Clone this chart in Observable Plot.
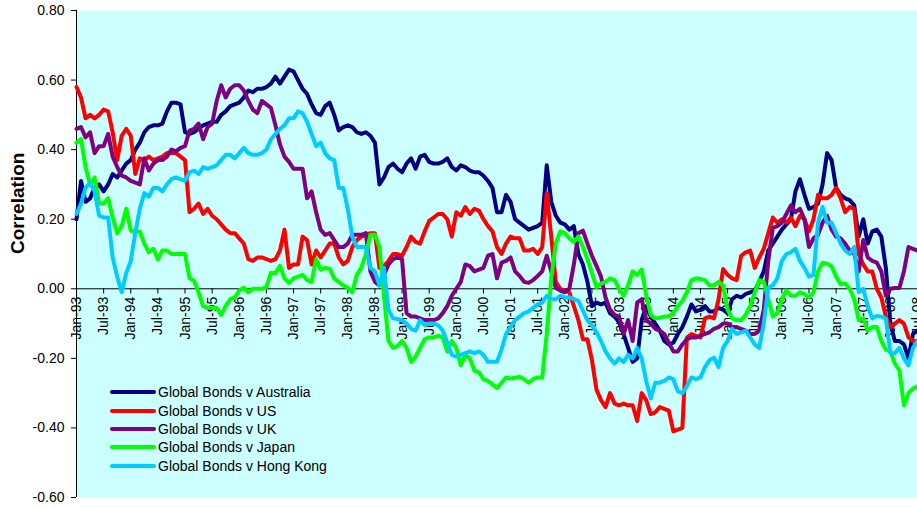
<!DOCTYPE html>
<html>
<head>
<meta charset="utf-8">
<script src="https://cdn.jsdelivr.net/npm/d3@7"></script>
<script src="https://cdn.jsdelivr.net/npm/@observablehq/plot@0.6"></script>
<style>
  html, body { margin: 0; padding: 0; background: #ffffff; overflow: hidden; }
  #wrap { position: relative; width: 917px; height: 507px; font-family: "Liberation Sans", Arial, sans-serif; }
  #wrap svg { display: block; }
  #legend { position: absolute; left: 110px; top: 383px; font-size: 14px; color: #000; }
  #legend .row { display: flex; align-items: center; height: 18.4px; white-space: nowrap; }
  #legend .swatch { width: 46px; height: 4px; margin-right: 2px; border-radius: 2px; }
</style>
</head>
<body>
<div id="wrap"><div id="legend"></div></div>
<script>
// Monthly correlations, Jan-93 onward (one value per month)
const australia = [
  0.20, 0.31, 0.25, 0.26, 0.29, 0.30, 0.28, 0.30, 0.33, 0.32,
  0.34, 0.36, 0.37, 0.40, 0.42, 0.45, 0.465, 0.47, 0.47, 0.475,
  0.51, 0.535, 0.535, 0.53, 0.45, 0.445, 0.45, 0.46, 0.47, 0.475,
  0.48, 0.48, 0.50, 0.51, 0.525, 0.53, 0.535, 0.55, 0.57, 0.565,
  0.575, 0.575, 0.58, 0.59, 0.61, 0.59, 0.61, 0.63, 0.625, 0.60,
  0.575, 0.56, 0.53, 0.505, 0.50, 0.525, 0.535, 0.50, 0.455, 0.465,
  0.47, 0.465, 0.45, 0.445, 0.45, 0.44, 0.42, 0.30, 0.32, 0.35,
  0.36, 0.345, 0.335, 0.36, 0.375, 0.345, 0.38, 0.385, 0.365, 0.36,
  0.36, 0.365, 0.375, 0.35, 0.34, 0.355, 0.35, 0.34, 0.335, 0.335,
  0.325, 0.31, 0.29, 0.22, 0.22, 0.27, 0.25, 0.20, 0.19, 0.18,
  0.17, 0.175, 0.18, 0.19, 0.355, 0.25, 0.21, 0.19, 0.185, 0.17,
  0.18, 0.10, 0.07, 0.02, -0.05, -0.04, -0.045, -0.04, -0.07, -0.08,
  -0.095, -0.13, -0.17, -0.21, -0.20, -0.09, -0.05, -0.08, -0.10, -0.12,
  -0.15, -0.16, -0.155, -0.13, -0.11, -0.08, -0.045, -0.065, -0.06, -0.05,
  -0.065, -0.065, -0.055, -0.06, -0.07, -0.03, -0.02, -0.025, -0.015, -0.01,
  -0.005, 0.02, 0.05, 0.11, 0.13, 0.15, 0.17, 0.185, 0.20, 0.28,
  0.315, 0.27, 0.23, 0.235, 0.245, 0.30, 0.39, 0.37, 0.29, 0.27,
  0.26, 0.255, 0.24, 0.15, 0.20, 0.13, 0.165, 0.17, 0.15, 0.06,
  -0.10, -0.15, -0.15, -0.16, -0.20, -0.13, -0.12
];
const us = [
  0.58, 0.55, 0.49, 0.50, 0.49, 0.50, 0.515, 0.51, 0.45, 0.37,
  0.44, 0.46, 0.44, 0.33, 0.375, 0.37, 0.38, 0.37, 0.375, 0.38,
  0.39, 0.39, 0.39, 0.38, 0.37, 0.22, 0.23, 0.245, 0.215, 0.23,
  0.21, 0.20, 0.185, 0.17, 0.16, 0.16, 0.145, 0.13, 0.085, 0.08,
  0.09, 0.09, 0.085, 0.08, 0.085, 0.11, 0.17, 0.06, 0.07, 0.07,
  0.15, 0.14, 0.07, 0.11, 0.09, 0.11, 0.13, 0.13, 0.09, 0.07,
  0.08, 0.12, 0.14, 0.15, 0.155, 0.16, 0.16, 0.06, 0.065, 0.08,
  0.10, 0.10, 0.095, 0.12, 0.15, 0.135, 0.13, 0.165, 0.195, 0.205,
  0.215, 0.215, 0.20, 0.15, 0.22, 0.21, 0.235, 0.215, 0.23, 0.225,
  0.20, 0.18, 0.165, 0.12, 0.10, 0.13, 0.15, 0.145, 0.145, 0.11,
  0.11, 0.115, 0.10, 0.12, 0.275, 0.15, 0.02, 0.00, -0.005, -0.01,
  -0.05, -0.09, -0.145, -0.145, -0.205, -0.29, -0.32, -0.34, -0.30, -0.33,
  -0.335, -0.33, -0.335, -0.335, -0.38, -0.30, -0.32, -0.36, -0.355, -0.34,
  -0.345, -0.35, -0.41, -0.405, -0.40, -0.14, -0.13, -0.135, -0.14, -0.085,
  -0.08, -0.085, -0.03, 0.057, 0.04, 0.03, 0.025, 0.095, 0.105, 0.11,
  0.06, 0.09, 0.115, 0.16, 0.205, 0.19, 0.20, 0.19, 0.205, 0.18,
  0.21, 0.20, 0.165, 0.20, 0.27, 0.26, 0.26, 0.27, 0.29, 0.26,
  0.22, 0.235, 0.23, 0.10, 0.07, 0.05, 0.05, 0.00, -0.025, -0.08,
  -0.11, -0.10, -0.09, -0.10, -0.14, -0.15, -0.15
];
const uk = [
  0.46, 0.465, 0.435, 0.45, 0.39, 0.41, 0.41, 0.445, 0.38, 0.35,
  0.325, 0.32, 0.31, 0.305, 0.30, 0.375, 0.34, 0.36, 0.37, 0.37,
  0.38, 0.40, 0.395, 0.405, 0.41, 0.455, 0.46, 0.475, 0.43, 0.465,
  0.475, 0.54, 0.585, 0.55, 0.575, 0.585, 0.585, 0.57, 0.54, 0.515,
  0.505, 0.54, 0.53, 0.52, 0.47, 0.415, 0.38, 0.365, 0.345, 0.345,
  0.345, 0.26, 0.28, 0.22, 0.17, 0.155, 0.16, 0.14, 0.12, 0.12,
  0.13, 0.155, 0.155, 0.155, 0.16, 0.05, 0.02, 0.01, 0.04, 0.07,
  0.085, 0.09, 0.085, -0.07, -0.08, -0.08, -0.085, -0.09, -0.09, -0.09,
  -0.085, -0.07, -0.05, -0.02, 0.00, 0.02, 0.07, 0.065, 0.05, 0.055,
  0.06, 0.095, 0.10, 0.03, 0.075, 0.08, 0.09, 0.05, 0.037, 0.02,
  0.017, 0.025, 0.037, 0.05, 0.095, 0.05, 0.003, -0.005, -0.01, 0.0,
  0.07, 0.16, 0.167, 0.13, 0.095, 0.066, 0.035, -0.025, -0.06, -0.075,
  -0.08, -0.13, -0.09, -0.15, -0.04, -0.03, -0.09, -0.10, -0.115, -0.12,
  -0.13, -0.155, -0.18, -0.18, -0.16, -0.145, -0.14, -0.14, -0.135, -0.13,
  -0.125, -0.115, -0.11, -0.10, -0.10, -0.11, -0.11, -0.115, -0.12, -0.13,
  -0.13, -0.12, -0.06, 0.08, 0.175, 0.18, 0.19, 0.215, 0.24, 0.22,
  0.23, 0.20, 0.12, 0.145, 0.155, 0.19, 0.21, 0.17, 0.15, 0.145,
  0.13, 0.11, 0.10, 0.05, 0.14, 0.09, 0.08, 0.075, 0.05, -0.02,
  0.00, 0.002, 0.002, 0.05, 0.12, 0.115, 0.11
];
const japan = [
  0.42, 0.43, 0.35, 0.30, 0.32, 0.245, 0.245, 0.26, 0.205, 0.16,
  0.18, 0.23, 0.167, 0.165, 0.165, 0.13, 0.105, 0.115, 0.085, 0.11,
  0.11, 0.10, 0.10, 0.10, 0.10, 0.03, 0.023, -0.01, -0.05, -0.055,
  -0.055, -0.055, -0.075, -0.05, -0.03, -0.025, -0.005, 0.003, -0.01, 0.0,
  0.0, 0.0, 0.005, 0.046, 0.045, 0.066, 0.03, 0.017, 0.03, 0.035,
  0.04, 0.025, 0.02, 0.085, 0.055, 0.06, 0.058, 0.03, 0.02, 0.01,
  0.003, -0.01, 0.04, 0.06, 0.10, 0.155, 0.155, 0.12, -0.02, -0.15,
  -0.17, -0.165, -0.15, -0.17, -0.21, -0.195, -0.17, -0.145, -0.14, -0.14,
  -0.135, -0.14, -0.18, -0.15, -0.17, -0.22, -0.19, -0.20, -0.235, -0.24,
  -0.26, -0.265, -0.275, -0.285, -0.27, -0.255, -0.258, -0.256, -0.253, -0.26,
  -0.27, -0.26, -0.255, -0.255, -0.13, 0.03, 0.13, 0.165, 0.16, 0.145,
  0.135, 0.15, 0.12, 0.085, 0.045, 0.005, 0.015, 0.02, 0.03, 0.025,
  0.0, -0.02, 0.01, 0.05, 0.04, 0.055, -0.02, -0.075, -0.085, -0.083,
  -0.08, -0.08, -0.07, -0.05, -0.035, -0.01, 0.025, 0.03, 0.028, 0.025,
  0.01, 0.01, 0.02, 0.01, -0.06, -0.085, -0.09, -0.09, -0.075, -0.05,
  -0.01, 0.025, 0.02, -0.03, -0.08, -0.07, -0.03, -0.005, -0.02, -0.02,
  -0.01, -0.015, -0.025, -0.01, 0.05, 0.075, 0.072, 0.065, 0.035, 0.013,
  0.015, 0.0, -0.03, -0.09, -0.085, -0.12, -0.11, -0.11, -0.15, -0.175,
  -0.18, -0.215, -0.235, -0.335, -0.30, -0.287, -0.28
];
const hongKong = [
  0.215, 0.245, 0.29, 0.305, 0.28, 0.21, 0.205, 0.205, 0.09, 0.035,
  -0.01, 0.045, 0.08, 0.16, 0.23, 0.275, 0.265, 0.29, 0.29, 0.28,
  0.30, 0.315, 0.32, 0.315, 0.31, 0.335, 0.34, 0.33, 0.35, 0.345,
  0.35, 0.355, 0.37, 0.385, 0.385, 0.375, 0.39, 0.405, 0.39, 0.385,
  0.385, 0.39, 0.40, 0.43, 0.445, 0.46, 0.47, 0.49, 0.49, 0.51,
  0.505, 0.48, 0.445, 0.41, 0.42, 0.39, 0.375, 0.37, 0.29, 0.29,
  0.23, 0.15, 0.12, 0.12, 0.12, 0.06, 0.05, 0.01, 0.06, -0.06,
  -0.085, -0.087, -0.09, -0.10, -0.115, -0.12, -0.09, -0.105, -0.10, -0.10,
  -0.105, -0.12, -0.155, -0.19, -0.195, -0.19, -0.185, -0.18, -0.185, -0.18,
  -0.19, -0.21, -0.21, -0.21, -0.175, -0.13, -0.11, -0.09, -0.08, -0.07,
  -0.065, -0.055, -0.045, -0.04, -0.02, -0.03, -0.03, -0.02, -0.025, -0.025,
  -0.03, -0.035, -0.063, -0.09, -0.105, -0.125, -0.15, -0.18, -0.20, -0.215,
  -0.20, -0.21, -0.19, -0.20, -0.17, -0.20, -0.265, -0.315, -0.27, -0.27,
  -0.265, -0.255, -0.26, -0.295, -0.30, -0.28, -0.255, -0.26, -0.255, -0.225,
  -0.205, -0.198, -0.225, -0.17, -0.15, -0.115, -0.13, -0.125, -0.12, -0.14,
  -0.16, -0.17, -0.10, 0.003, 0.01, 0.03, 0.08, 0.10, 0.105, 0.115,
  0.08, 0.06, 0.035, 0.04, 0.19, 0.235, 0.19, 0.19, 0.16, 0.13,
  0.11, 0.10, 0.12, -0.01, 0.00, -0.05, -0.085, -0.078, -0.08, -0.085,
  -0.185, -0.185, -0.17, -0.20, -0.22, -0.17, -0.15
];

const seriesNames = [
  "Global Bonds v Australia",
  "Global Bonds v US",
  "Global Bonds v UK",
  "Global Bonds v Japan",
  "Global Bonds v Hong Kong"
];
const seriesColors = ["#000080", "#ff0000", "#800080", "#00ff00", "#00ccff"];
const seriesValues = [australia, us, uk, japan, hongKong];

const xTickLabels = [
  "Jan-93", "Jul-93", "Jan-94", "Jul-94", "Jan-95", "Jul-95", "Jan-96", "Jul-96",
  "Jan-97", "Jul-97", "Jan-98", "Jul-98", "Jan-99", "Jul-99", "Jan-00", "Jul-00",
  "Jan-01", "Jul-01", "Jan-02", "Jul-02", "Jan-03", "Jul-03", "Jan-04", "Jul-04",
  "Jan-05", "Jul-05", "Jan-06", "Jul-06", "Jan-07", "Jul-07", "Jan-08", "Jul-08"
];
const yTicks = [-0.6, -0.4, -0.2, 0, 0.2, 0.4, 0.6, 0.8];

const tickRows = xTickLabels.map((label, i) => ({m: i * 6, label}));
const lastMonth = australia.length - 1;

const chart = Plot.plot({
  width: 917,
  height: 507,
  marginLeft: 76,
  marginRight: 0,
  marginTop: 10,
  marginBottom: 10,
  style: {
    fontFamily: "'Liberation Sans', Arial, sans-serif",
    fontSize: "14px",
    background: "#ffffff",
    color: "#000000",
    overflow: "hidden"
  },
  x: {domain: [0, lastMonth], axis: null},
  y: {
    domain: [-0.6, 0.8],
    ticks: yTicks,
    tickFormat: d => d.toFixed(2),
    tickSize: 5,
    tickPadding: 7,
    label: null
  },
  marks: [
    Plot.frame({fill: "#ccffff", stroke: "none"}),
    Plot.text(tickRows, {
      x: "m", y: () => 0, text: "label",
      rotate: -90, textAnchor: "end", dy: 8, fontSize: 14, fill: "#000"
    }),
    Plot.ruleY([0], {stroke: "#000", strokeWidth: 1}),
    Plot.ruleX(tickRows, {x: "m", y1: () => 0, y2: () => -0.015, stroke: "#000"}),
    Plot.ruleX([0], {stroke: "#000", strokeWidth: 1}),
    ...seriesValues.map((vals, i) =>
      Plot.line(vals, {
        x: (d, j) => j, y: d => d,
        stroke: seriesColors[i], strokeWidth: 4,
        strokeLinejoin: "round", strokeLinecap: "round"
      })
    ),
    Plot.text(["Correlation"], {
      frameAnchor: "left", dx: -59, rotate: -90,
      fontWeight: "bold", fontSize: 19, fill: "#000"
    })
  ]
});

const wrap = document.getElementById("wrap");
wrap.insertBefore(chart, wrap.firstChild);

const legend = document.getElementById("legend");
seriesNames.forEach((name, i) => {
  const row = document.createElement("div");
  row.className = "row";
  const sw = document.createElement("div");
  sw.className = "swatch";
  sw.style.background = seriesColors[i];
  const tx = document.createElement("span");
  tx.textContent = name;
  row.appendChild(sw);
  row.appendChild(tx);
  legend.appendChild(row);
});
</script>
</body>
</html>
